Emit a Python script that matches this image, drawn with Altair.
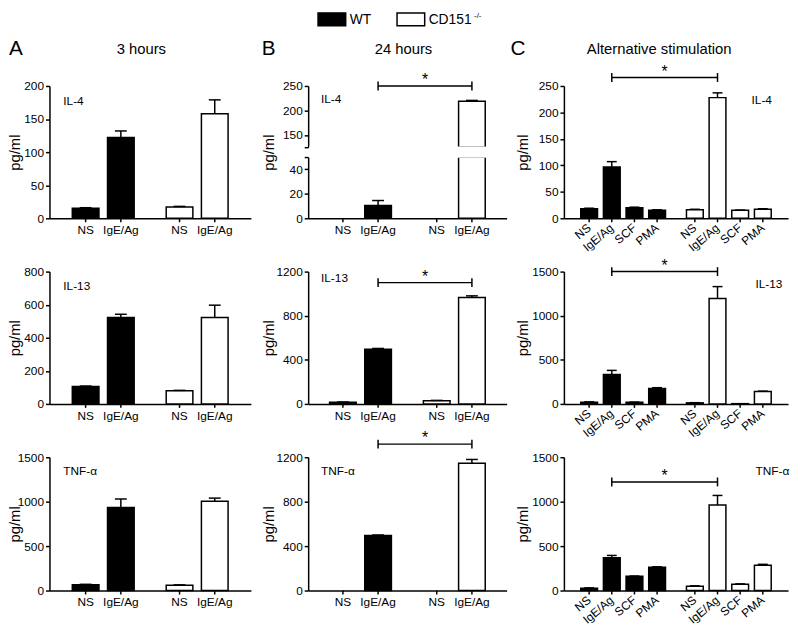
import altair as alt
import pandas as pd

FONT = "Liberation Sans"
genotypes = ["WT", "CD151"]
stims_ab = ["NS", "IgE/Ag"]
stims_c = ["NS", "IgE/Ag", "SCF", "PMA"]

# ---- A: 3 hours ----
a_il4_wt = [15, 122];  a_il4_wt_err = [1, 10]
a_il4_ko = [17, 158];  a_il4_ko_err = [1, 21]
a_il13_wt = [105, 522]; a_il13_wt_err = [3, 20]
a_il13_ko = [80, 522];  a_il13_ko_err = [2, 75]
a_tnf_wt = [65, 935];  a_tnf_wt_err = [5, 95]
a_tnf_ko = [60, 1005]; a_tnf_ko_err = [4, 35]

# ---- B: 24 hours ----
b_il4_wt = [0, 10.5];  b_il4_wt_err = [0, 4]
b_il4_ko = [0, 219];   b_il4_ko_err = [0, 1.5]
b_il13_wt = [15, 495]; b_il13_wt_err = [2, 8]
b_il13_ko = [28, 965]; b_il13_ko_err = [4, 15]
b_tnf_wt = [0, 495];   b_tnf_wt_err = [0, 5]
b_tnf_ko = [0, 1145];  b_tnf_ko_err = [0, 35]

# ---- C: alternative stimulation ----
c_il4_wt = [18, 97, 20, 15];    c_il4_wt_err = [1, 10, 1, 1]
c_il4_ko = [16, 228, 15, 17];   c_il4_ko_err = [1, 9, 0.5, 1]
c_il13_wt = [20, 335, 18, 176]; c_il13_wt_err = [3, 45, 2, 8]
c_il13_ko = [12, 1195, 3, 142]; c_il13_ko_err = [2, 135, 0, 3]
c_tnf_wt = [25, 370, 160, 262]; c_tnf_wt_err = [5, 25, 3, 5]
c_tnf_ko = [48, 963, 72, 285];  c_tnf_ko_err = [5, 107, 3, 10]

# significance bracket heights (data units)
brackets = {"B1": 250, "B2": 1100, "B3": 1318, "C1": 266, "C2": 1500, "C3": 1222}

# broken axis of panel B / IL-4
B1_TOP = [125, 250]
B1_BOTTOM = [0, 50]

# layout: slot step inside a group (S), offset of the second group (G), px per slot, bar width
LAY_AB = dict(S=3, G=8, unit=12.5, bar=27, cap=12)
LAY_C = dict(S=3, G=14, unit=8, bar=17, cap=10)
W_A, W_B, W_C = 204, 201, 227
H = 134
FILL = alt.Fill("genotype:N", scale=alt.Scale(domain=genotypes, range=["black", "white"]),
                legend=None)


def make_df(wt, wt_err, ko, ko_err, stims, lay):
    rows = []
    for gi, (g, vals, errs) in enumerate((("WT", wt, wt_err), ("CD151", ko, ko_err))):
        for si, (s, v, e) in enumerate(zip(stims, vals, errs)):
            rows.append({"genotype": g, "stim": s, "slot": gi * lay["G"] + si * lay["S"],
                         "value": v, "err": e, "top": v + e})
    return pd.DataFrame(rows)


def x_enc(n_stims, lay, width):
    last = lay["G"] + (n_stims - 1) * lay["S"]
    a = (width / lay["unit"] - last) / 2
    xs = alt.Scale(domain=[-a, last + a], nice=False, zero=False)
    xaxis = alt.Axis(labels=False, ticks=False, title=None, domainColor="black",
                     domainWidth=1.5, grid=False)
    return alt.X("slot:Q", scale=xs, axis=xaxis)


def y_axis(ticks, height, title_x, title_y=None, show_title=True, label_expr=None):
    kw = dict(values=ticks, grid=False, tickSize=4, tickWidth=1.5, tickColor="black",
              domainColor="black", domainWidth=1.5, labelFontSize=12, labelColor="black",
              labelPadding=2, labelFont=FONT, orient="left", format="d")
    if label_expr:
        kw["labelExpr"] = label_expr
    if show_title:
        kw.update(title="pg/ml", titleFontSize=15, titleFontWeight="normal", titleFont=FONT,
                  titleColor="black", titleX=title_x,
                  titleY=height / 2 if title_y is None else title_y)
    else:
        kw["title"] = None
    return alt.Axis(**kw)


def bar_layers(df, x, Y, base_value, lay, bar_filter="datum.value > 0",
               err_filter="datum.err > 0"):
    base = alt.Chart(df)
    return [
        base.transform_filter(bar_filter)
        .mark_bar(width=lay["bar"], stroke="black", strokeWidth=1.5, opacity=1)
        .encode(x=x, y=Y("value"), y2=alt.datum(base_value), fill=FILL),
        base.transform_filter(err_filter)
        .mark_rule(color="black", strokeWidth=1.5)
        .encode(x=x, y=Y("value"), y2=alt.Y2("top:Q")),
        base.transform_filter(err_filter)
        .mark_tick(color="black", thickness=1.5, size=lay["cap"], orient="horizontal", opacity=1)
        .encode(x=x, y=Y("top")),
    ]


def xlabel_layers(df, x, height, rotate):
    base = alt.Chart(df)
    out = [base.mark_rule(color="black", strokeWidth=1.5)
           .encode(x=x, y=alt.value(height), y2=alt.value(height + 4))]
    if rotate:
        out.append(base.mark_text(fontSize=12, angle=320, align="right", baseline="middle",
                                  color="black")
                   .encode(x=x, y=alt.value(height + 8), text="stim:N"))
    else:
        out.append(base.mark_text(fontSize=12, baseline="middle", color="black")
                   .encode(x=x, y=alt.value(height + 12), text="stim:N"))
    return out


def cyto_layer(cyto, xy):
    return (alt.Chart(pd.DataFrame({"t": [cyto]}))
            .mark_text(align="left", baseline="middle", fontSize=12, color="black")
            .encode(text="t:N", x=alt.value(xy[0]), y=alt.value(xy[1])))


def bracket_layers(value, x, Y, lay):
    ends = [lay["S"], lay["G"] + lay["S"]]      # the two IgE/Ag bars
    bdf = pd.DataFrame({"slot": ends, "b": [value, value]})
    sdf = pd.DataFrame({"slot": [sum(ends) / 2], "b": [value]})
    return [
        alt.Chart(bdf).mark_line(color="black", strokeWidth=1.5).encode(x=x, y=Y("b")),
        alt.Chart(bdf).mark_point(shape="M0,-1L0,1", size=81, filled=False, color="black",
                                  strokeWidth=1.5, opacity=1).encode(x=x, y=Y("b")),
        alt.Chart(sdf).mark_text(text="*", fontSize=16, dy=-6, baseline="middle", color="black")
        .encode(x=x, y=Y("b")),
    ]


def header_layers(letter, lx, title, tx, width):
    hc = alt.Chart(pd.DataFrame({"t": [letter], "s": [title]}))
    return [
        hc.mark_text(align="left", baseline="middle", fontSize=21, color="black")
        .encode(text="t:N", x=alt.value(lx), y=alt.value(-37)),
        hc.mark_text(align="center", baseline="middle", fontSize=15, color="black")
        .encode(text="s:N", x=alt.value(width / 2 + tx), y=alt.value(-37)),
    ]


def panel(df, stims, lay, width, height, domain, ticks, cyto, cyto_xy, title_x=-27,
          bracket=None, rotate=False, header=None):
    x = x_enc(len(stims), lay, width)
    ys = alt.Scale(domain=domain, nice=False, zero=False)
    yaxis = y_axis(ticks, height, title_x)

    def Y(f):
        return alt.Y(f"{f}:Q", scale=ys, axis=yaxis)

    layers = bar_layers(df, x, Y, 0, lay)
    layers += xlabel_layers(df, x, height, rotate)
    layers.append(cyto_layer(cyto, cyto_xy))
    if bracket is not None:
        layers += bracket_layers(bracket, x, Y, lay)
    if header:
        layers += header_layers(*header, width)
    return alt.layer(*layers).properties(width=width, height=height)


def broken_panel(df, width, height, seg, gap):
    """Panel B / IL-4: y axis broken between B1_BOTTOM and B1_TOP."""
    lay = LAY_AB
    x = x_enc(2, lay, width)
    ys_top = alt.Scale(domain=B1_TOP, range=[seg, 0], nice=False, zero=False, clamp=True)
    ys_bot = alt.Scale(domain=B1_BOTTOM, range=[height, seg + gap], nice=False, zero=False,
                       clamp=True)
    ax_top = y_axis([125, 150, 200, 250], height, 0, show_title=False,
                    label_expr="datum.value == 125 ? '' : datum.label")
    ax_bot = y_axis([0, 20, 40, 50], height, -32,
                    label_expr="datum.value == 50 ? '' : datum.label")

    def Yt(f):
        return alt.Y(f"{f}:Q", scale=ys_top, axis=ax_top)

    def Yb(f):
        return alt.Y(f"{f}:Q", scale=ys_bot, axis=ax_bot)

    top = bar_layers(df, x, Yt, B1_TOP[0], lay, bar_filter=f"datum.value > {B1_TOP[0]}",
                     err_filter=f"datum.err > 0 && datum.value > {B1_TOP[0]}")
    top += bracket_layers(brackets["B1"], x, Yt, lay)
    top += header_layers("B", -47, "24 hours", -4, width)
    top.append(cyto_layer("IL-4", (13, 13)))
    bot = bar_layers(df, x, Yb, 0, lay,
                     err_filter=f"datum.err > 0 && datum.value <= {B1_BOTTOM[1]}")
    bot += xlabel_layers(df, x, height, False)
    # white mask over the break so the bar outline is open there, as in the reference
    mask = (alt.Chart(pd.DataFrame({"m": [0]}))
            .mark_rect(color="white", opacity=1)
            .encode(x=alt.value(1), x2=alt.value(width), y=alt.value(seg - 0.8),
                    y2=alt.value(seg + gap + 0.8)))
    return (alt.layer(alt.layer(*top), alt.layer(*bot), mask)
            .resolve_scale(y="independent")
            .properties(width=width, height=height))


A1 = panel(make_df(a_il4_wt, a_il4_wt_err, a_il4_ko, a_il4_ko_err, stims_ab, LAY_AB), stims_ab,
           LAY_AB, W_A, H, [0, 200], [0, 50, 100, 150, 200], "IL-4", (14, 15),
           header=("A", -41, "3 hours", -9))
A2 = panel(make_df(a_il13_wt, a_il13_wt_err, a_il13_ko, a_il13_ko_err, stims_ab, LAY_AB),
           stims_ab, LAY_AB, W_A, H, [0, 800], [0, 200, 400, 600, 800], "IL-13", (14, 15))
A3 = panel(make_df(a_tnf_wt, a_tnf_wt_err, a_tnf_ko, a_tnf_ko_err, stims_ab, LAY_AB), stims_ab,
           LAY_AB, W_A, H + 1, [0, 1500], [0, 500, 1000, 1500], "TNF-\u03b1", (14, 14))

B1 = broken_panel(make_df(b_il4_wt, b_il4_wt_err, b_il4_ko, b_il4_ko_err, stims_ab, LAY_AB),
                  W_B, H, 62, 10)
B2 = panel(make_df(b_il13_wt, b_il13_wt_err, b_il13_ko, b_il13_ko_err, stims_ab, LAY_AB),
           stims_ab, LAY_AB, W_B, H, [0, 1200], [0, 400, 800, 1200], "IL-13", (13, 7),
           title_x=-32, bracket=brackets["B2"])
B3 = panel(make_df(b_tnf_wt, b_tnf_wt_err, b_tnf_ko, b_tnf_ko_err, stims_ab, LAY_AB), stims_ab,
           LAY_AB, W_B, H + 1, [0, 1200], [0, 400, 800, 1200], "TNF-\u03b1", (13, 14),
           title_x=-32, bracket=brackets["B3"])

C1 = panel(make_df(c_il4_wt, c_il4_wt_err, c_il4_ko, c_il4_ko_err, stims_c, LAY_C), stims_c,
           LAY_C, W_C, H, [0, 250], [0, 50, 100, 150, 200, 250], "IL-4", (190, 14),
           title_x=-34, bracket=brackets["C1"], rotate=True,
           header=("C", -54, "Alternative stimulation", -17))
C2 = panel(make_df(c_il13_wt, c_il13_wt_err, c_il13_ko, c_il13_ko_err, stims_c, LAY_C), stims_c,
           LAY_C, W_C, H, [0, 1500], [0, 500, 1000, 1500], "IL-13", (194, 13), title_x=-34,
           bracket=brackets["C2"], rotate=True)
C3 = panel(make_df(c_tnf_wt, c_tnf_wt_err, c_tnf_ko, c_tnf_ko_err, stims_c, LAY_C), stims_c,
           LAY_C, W_C, H + 1, [0, 1500], [0, 500, 1000, 1500], "TNF-\u03b1", (194, 14),
           title_x=-34, bracket=brackets["C3"], rotate=True)

grid = alt.concat(A1, B1, C1, A2, B2, C2, A3, B3, C3, columns=3,
                  spacing={"row": 54, "column": 58}, bounds="flush", align="each")

# ---- legend ----
leg_df = pd.DataFrame({"genotype": genotypes, "label": ["WT", "CD151"]})
lx = alt.X("genotype:N", scale=alt.Scale(type="point", domain=genotypes, range=[286, 366],
                                         padding=0), axis=None)
legend = alt.layer(
    alt.Chart(leg_df).mark_bar(width=28, stroke="black", strokeWidth=1.5, opacity=1)
    .encode(x=lx, y=alt.value(-6), y2=alt.value(7), fill=FILL),
    alt.Chart(leg_df).mark_text(align="left", baseline="middle", dx=18, fontSize=14, color="black")
    .encode(x=lx, y=alt.value(1), text="label:N"),
    alt.Chart(leg_df[leg_df.genotype == "CD151"])
    .mark_text(align="left", baseline="middle", dx=64, dy=-4, fontSize=8, color="black")
    .encode(x=lx, y=alt.value(1), text=alt.value("-/-")),
).properties(width=W_A + W_B + W_C + 2 * 58, height=7)

chart = alt.vconcat(legend, grid, spacing=61, bounds="flush").properties(
    padding={"left": 0, "top": 0, "right": 2, "bottom": 0}
).configure(font=FONT).configure_view(strokeWidth=0)

chart.save("out.html", embed_options={"renderer": "svg", "actions": False})
